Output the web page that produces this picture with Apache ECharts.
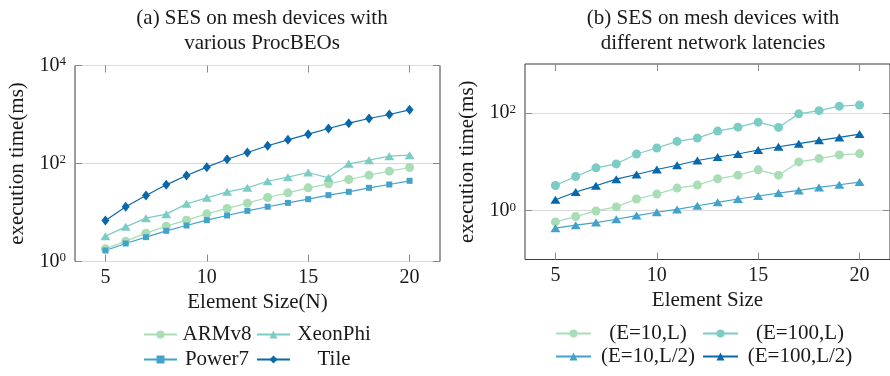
<!DOCTYPE html>
<html>
<head>
<meta charset="utf-8">
<script src="https://cdn.jsdelivr.net/npm/echarts@6/dist/echarts.min.js"></script>
<style>
  html, body { margin: 0; padding: 0; background: #ffffff; }
  #chart { width: 890px; height: 376px; }
</style>
</head>
<body>
<div id="chart"></div>
<script>
// Element sizes (x values) shared by both panels
const elementSize = [5, 6, 7, 8, 9, 10, 11, 12, 13, 14, 15, 16, 17, 18, 19, 20];

// Panel (a): execution time (ms) per processor
const armv8    = [1.81, 2.60, 3.79, 5.26, 6.98, 9.40, 12.1, 15.5, 20.2, 25.2, 31.9, 38.5, 47.1, 57.8, 69.8, 82.8];
const xeonPhi  = [3.29, 5.09, 7.66, 9.25, 15.0, 19.9, 26.4, 31.9, 43.5, 52.6, 65.5, 51.0, 98.4, 117, 141, 148];
const power7   = [1.68, 2.33, 3.14, 4.23, 5.43, 6.98, 8.69, 10.8, 13.1, 15.7, 18.7, 22.6, 26.4, 31.9, 37.3, 44.3];
const tile     = [6.9, 13.1, 22.2, 36.7, 56.9, 84.2, 122, 168, 230, 304, 397, 518, 665, 828, 1000, 1245];

// Panel (b): execution time (ms) per network latency setting
const e10L     = [0.588, 0.755, 0.985, 1.19, 1.73, 2.18, 2.89, 3.33, 4.48, 5.31, 6.82, 5.31, 9.93, 11.6, 13.8, 14.7];
const e100L    = [3.27, 4.99, 7.50, 9.03, 14.4, 19.1, 26.1, 30.5, 42.4, 51.1, 64.6, 50.4, 95.5, 111, 137, 145];
const e10L2    = [0.438, 0.503, 0.570, 0.667, 0.791, 0.925, 1.06, 1.26, 1.48, 1.73, 1.99, 2.29, 2.59, 2.99, 3.38, 3.83];
const e100L2   = [1.67, 2.40, 3.22, 4.41, 5.48, 6.93, 8.49, 10.6, 12.5, 14.4, 17.4, 20.3, 23.4, 27.4, 31.5, 36.8];

// Tick positions
const xTicks = [5, 10, 15, 20];
const yTicksA = [1, 100, 10000];
const yTicksB = [1, 100];

const FONT = 'Liberation Serif';
const TEXT = '#1a1a1a';
const C_LIGHT = '#a8ddb5';
const C_TEAL  = '#7bccc4';
const C_BLUE  = '#43a2ca';
const C_DARK  = '#0868ac';
const BORDER = '#3a3a3a';
const TICK = '#8a8a8a';

const pairs = ys => elementSize.map((x, i) => [x, ys[i]]);

const powLabel = v => '{b|10}{s|' + Math.round(Math.log10(v)) + '}';
const powRich = {
  b: { fontFamily: FONT, fontSize: 20, color: TEXT, lineHeight: 20, verticalAlign: 'bottom' },
  s: { fontFamily: FONT, fontSize: 13, color: TEXT, lineHeight: 14, padding: [0, 0, 10, 0], verticalAlign: 'top' }
};

const nameStyle = { fontFamily: FONT, fontSize: 21, color: TEXT };

function xAxes(grid, name) {
  return [
    {
      type: 'value', gridIndex: grid, position: 'bottom', min: 3.5, max: 21.5,
      axisLine: { show: false },
      axisTick: { show: true, inside: true, length: 7, customValues: xTicks, lineStyle: { color: TICK } },
      axisLabel: { customValues: xTicks, fontFamily: FONT, fontSize: 20, color: TEXT, margin: 6 },
      splitLine: { show: false },
      name: name, nameLocation: 'middle', nameGap: 30, nameTextStyle: nameStyle
    },
    {
      type: 'value', gridIndex: grid, position: 'top', min: 3.5, max: 21.5,
      axisLine: { show: false },
      axisTick: { show: true, inside: true, length: 7, customValues: xTicks, lineStyle: { color: TICK } },
      axisLabel: { show: false },
      splitLine: { show: false }
    }
  ];
}

function yAxes(grid, min, max, ticks) {
  return [
    {
      type: 'log', logBase: 10, gridIndex: grid, position: 'left', min: min, max: max,
      axisLine: { show: false },
      axisTick: { show: true, inside: true, length: 7, customValues: ticks, lineStyle: { color: TICK } },
      axisLabel: { customValues: ticks, formatter: powLabel, rich: powRich, margin: 9 },
      splitLine: { show: true, lineStyle: { color: '#dadada', width: 1 } },
      minorTick: { show: false }, minorSplitLine: { show: false },
      name: 'execution time(ms)', nameLocation: 'middle', nameRotate: 90, nameGap: 47,
      nameTextStyle: nameStyle
    },
    {
      type: 'log', logBase: 10, gridIndex: grid, position: 'right', min: min, max: max,
      axisLine: { show: false },
      axisTick: { show: true, inside: true, length: 7, customValues: ticks, lineStyle: { color: TICK } },
      axisLabel: { show: false },
      splitLine: { show: false },
      minorTick: { show: false }
    }
  ];
}

function lineSeries(name, data, xi, yi, color, symbol, size) {
  return {
    type: 'line', name: name, data: pairs(data),
    xAxisIndex: xi, yAxisIndex: yi,
    symbol: symbol, symbolSize: size, showSymbol: true,
    color: color,
    lineStyle: { color: color, width: 1.2 },
    itemStyle: { color: color },
    emphasis: { disabled: true },
    animation: false
  };
}

function legendFor(names, left, top, width, itemWidth, gap, w1, w2) {
  const cell = (w) => ({ fontFamily: FONT, fontSize: 21, color: TEXT, width: w, align: 'center', lineHeight: 24 - gap });
  return {
    left: left, top: top, width: width, orient: 'horizontal', padding: 0,
    itemWidth: itemWidth, itemHeight: 10, itemGap: gap,
    selectedMode: false,
    data: names,
    formatter: n => '{' + (names.indexOf(n) % 2 === 0 ? 'c1' : 'c2') + '|' + n + '}',
    textStyle: { fontFamily: FONT, fontSize: 21, color: TEXT, rich: { c1: cell(w1), c2: cell(w2) } }
  };
}

const titleStyle = { fontFamily: FONT, fontSize: 21, fontWeight: 'normal', color: TEXT, lineHeight: 25 };

const option = {
  animation: false,
  backgroundColor: '#ffffff',
  title: [
    { text: '(a) SES on mesh devices with\nvarious ProcBEOs', left: 257, top: 1, textAlign: 'center', textStyle: titleStyle },
    { text: '(b) SES on mesh devices with\ndifferent network latencies', left: 708, top: 1, textAlign: 'center', textStyle: titleStyle }
  ],
  grid: [
    { left: 75, top: 65.5, width: 365, height: 196, show: true, borderColor: BORDER, borderWidth: 1, backgroundColor: 'transparent' },
    { left: 525, top: 64, width: 366, height: 195.5, show: true, borderColor: BORDER, borderWidth: 1, backgroundColor: 'transparent' }
  ],
  xAxis: [].concat(xAxes(0, 'Element Size(N)'), xAxes(1, 'Element Size')),
  yAxis: [].concat(yAxes(0, 1, 10000, yTicksA), yAxes(1, 0.1, 1000, yTicksB)),
  legend: [
    legendFor(['ARMv8', 'XeonPhi', 'Power7', 'Tile'], 143, 324, 240, 33, 4, 70, 78),
    legendFor(['(E=10,L)', '(E=100,L)', '(E=10,L/2)', '(E=100,L/2)'], 555, 323, 310, 35, 2, 104, 114)
  ],
  series: [
    lineSeries('ARMv8', armv8, 0, 0, C_LIGHT, 'circle', 9),
    lineSeries('XeonPhi', xeonPhi, 0, 0, C_TEAL, 'triangle', [10, 8]),
    lineSeries('Power7', power7, 0, 0, C_BLUE, 'rect', 6),
    lineSeries('Tile', tile, 0, 0, C_DARK, 'diamond', [8, 10]),
    lineSeries('(E=10,L)', e10L, 2, 2, C_LIGHT, 'circle', 9),
    lineSeries('(E=100,L)', e100L, 2, 2, C_TEAL, 'circle', 9),
    lineSeries('(E=10,L/2)', e10L2, 2, 2, C_BLUE, 'triangle', [10, 8]),
    lineSeries('(E=100,L/2)', e100L2, 2, 2, C_DARK, 'triangle', [10, 8])
  ]
};

const chart = echarts.init(document.getElementById('chart'), null, { renderer: 'canvas' });
chart.setOption(option);
</script>
</body>
</html>
